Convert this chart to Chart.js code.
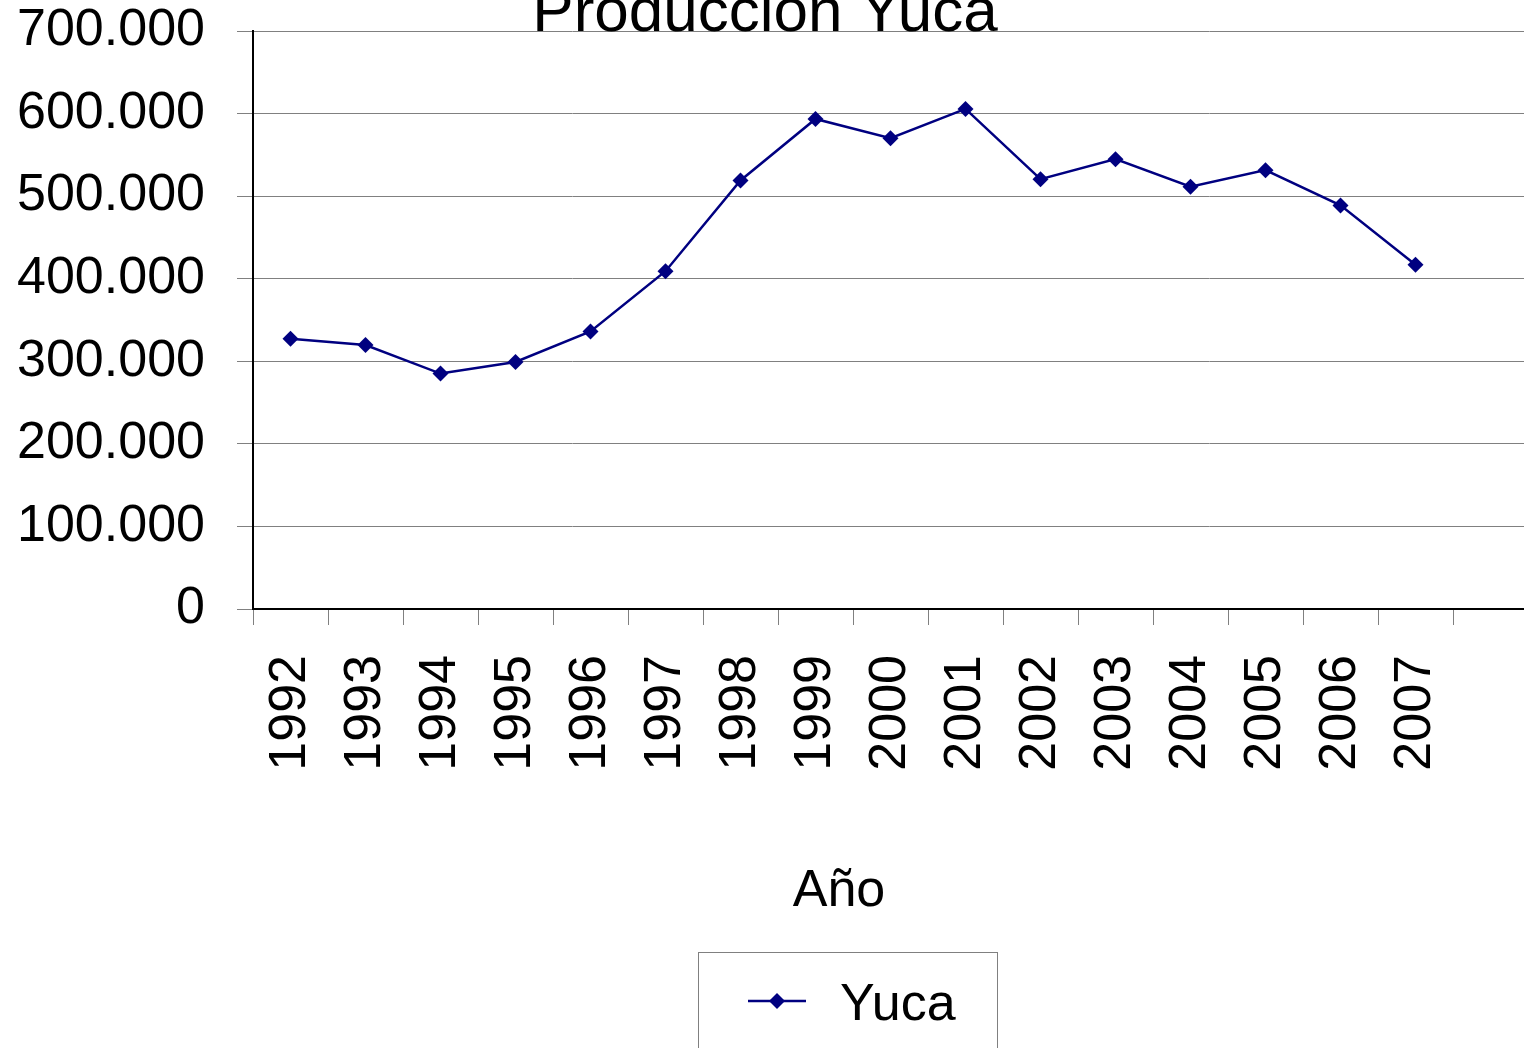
<!DOCTYPE html>
<html>
<head>
<meta charset="utf-8">
<script src="https://cdn.jsdelivr.net/npm/chart.js@4.4.1/dist/chart.umd.min.js"></script>
<style>
html,body{margin:0;padding:0;background:#fff;overflow:hidden;}
#wrap{width:1536px;height:1048px;position:relative;}
</style>
</head>
<body>
<div id="wrap"><canvas id="c" width="1536" height="1048"></canvas></div>
<script>
const categories = ['1992','1993','1994','1995','1996','1997','1998','1999','2000','2001','2002','2003','2004','2005','2006','2007',''];
const yucaValues = [327400, 319700, 285100, 299200, 336200, 409100, 519000, 593500, 570200, 605600, 520600, 544800, 511400, 531500, 488800, 416800];
const yTicks = [0, 100000, 200000, 300000, 400000, 500000, 600000, 700000];
const seriesName = 'Yuca';
const chartTitle = 'Producción Yuca';
const xTitle = 'Año';

const FONT = '"Liberation Sans", Arial, sans-serif';
const NAVY = '#000080';

function fmt(v){ return String(v).replace(/\B(?=(\d{3})+(?!\d))/g, '.'); }

const extras = {
  id: 'extras',
  afterDraw(chart){
    const ctx = chart.ctx;
    ctx.save();
    ctx.fillStyle = '#000';
    ctx.textBaseline = 'alphabetic';
    ctx.textAlign = 'center';
    ctx.font = '62px ' + FONT;
    ctx.fillText(chartTitle, 765, 31);
    ctx.font = '52px ' + FONT;
    ctx.fillText(xTitle, 839, 906);
    // legend
    const ds = chart.data.datasets[0];
    ctx.strokeStyle = '#808080';
    ctx.lineWidth = 1;
    ctx.strokeRect(698.5, 952.5, 299, 120);
    ctx.strokeStyle = ds.borderColor;
    ctx.lineWidth = 2.5;
    ctx.beginPath();
    ctx.moveTo(748, 1001);
    ctx.lineTo(806, 1001);
    ctx.stroke();
    ctx.fillStyle = ds.pointBackgroundColor;
    ctx.beginPath();
    ctx.moveTo(777, 993); ctx.lineTo(785, 1001); ctx.lineTo(777, 1009); ctx.lineTo(769, 1001); ctx.closePath();
    ctx.fill();
    ctx.fillStyle = '#000';
    ctx.textAlign = 'left';
    ctx.font = '52px ' + FONT;
    ctx.fillText(ds.label, 840, 1020);
    ctx.restore();
  }
};

new Chart(document.getElementById('c'), {
  type: 'line',
  data: {
    labels: categories,
    datasets: [{
      label: seriesName,
      data: yucaValues,
      borderColor: NAVY,
      backgroundColor: NAVY,
      pointBackgroundColor: NAVY,
      pointBorderColor: NAVY,
      borderWidth: 2.5,
      pointStyle: 'rectRot',
      pointRadius: 8,
      pointBorderWidth: 0,
      tension: 0,
      fill: false
    }]
  },
  options: {
    responsive: false,
    animation: false,
    events: [],
    layout: { padding: { top: 31, right: 2, bottom: 269, left: 0 } },
    plugins: { legend: { display: false }, title: { display: false }, tooltip: { enabled: false } },
    scales: {
      x: {
        type: 'category',
        offset: true,
        grid: { display: true, offset: true, drawOnChartArea: false, drawTicks: true, tickLength: 16, color: '#808080', lineWidth: 1 },
        border: { display: true, color: '#000', width: 2 },
        ticks: { autoSkip: false, minRotation: 90, maxRotation: 90, padding: 30, color: '#000', font: { family: FONT, size: 52 } },
        afterFit(s){ s.height = 170; s.paddingLeft = 0; s.paddingRight = 0; s.paddingTop = 0; s.paddingBottom = 0; }
      },
      y: {
        min: 0, max: 700000,
        afterBuildTicks(s){ s.ticks = yTicks.map(v => ({ value: v })); },
        grid: { color: '#808080', lineWidth: 1, drawTicks: true, tickLength: 16 },
        border: { display: true, color: '#000', width: 2 },
        ticks: { padding: 32, color: '#000', font: { family: FONT, size: 52 }, callback: v => fmt(v) },
        afterFit(s){ s.width = 253; s.paddingLeft = 0; s.paddingRight = 0; s.paddingTop = 0; s.paddingBottom = 0; }
      }
    }
  },
  plugins: [extras]
});
</script>
</body>
</html>
